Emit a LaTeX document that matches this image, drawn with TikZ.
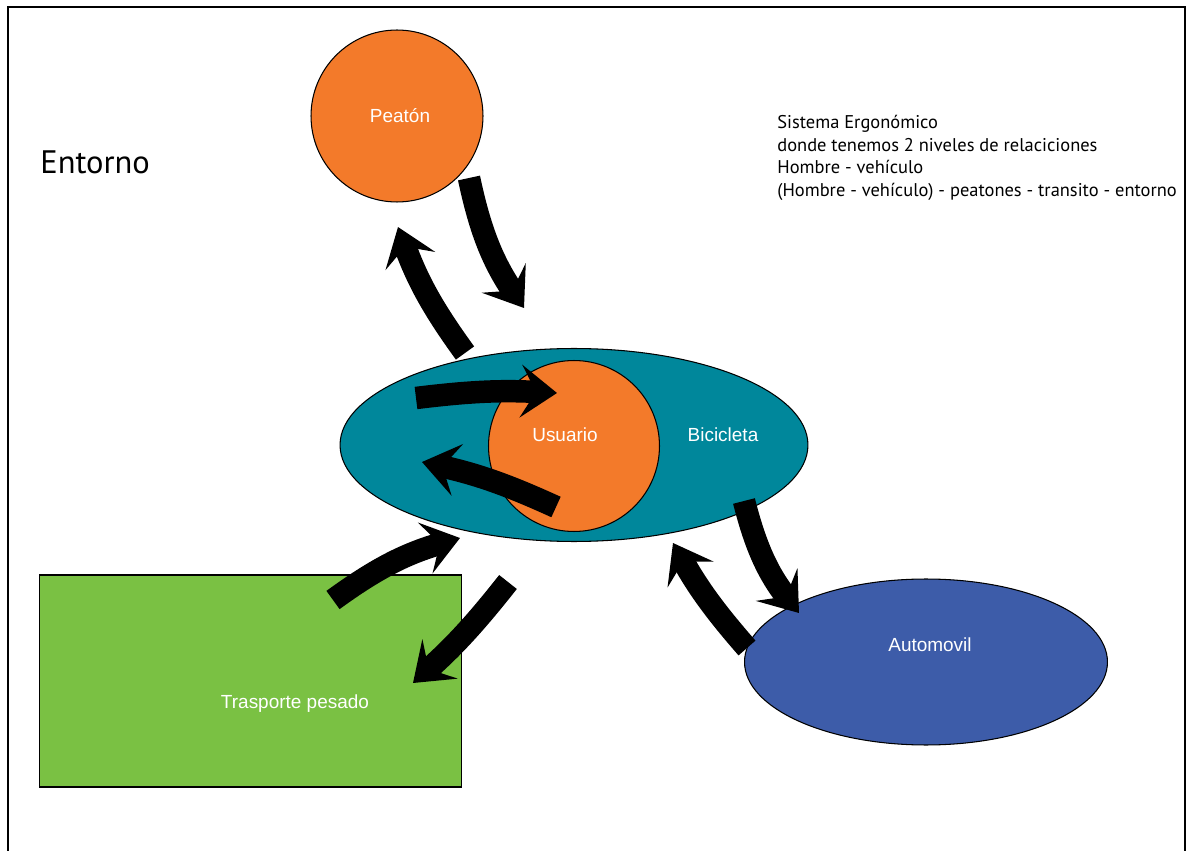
\documentclass[tikz,border=0pt]{standalone}
\usepackage{fontspec}
\setmainfont{Liberation Sans}
\newfontfamily\notefont{PT Sans}
\usetikzlibrary{arrows.meta,shapes.geometric}
\definecolor{tangerine}{HTML}{F37A2A}
\definecolor{petrol}{HTML}{00879B}
\definecolor{cobalt}{HTML}{3D5CA9}
\definecolor{leaf}{HTML}{7AC143}

\begin{document}
\begin{tikzpicture}[x=0.02cm,y=-0.02cm,
  orb/.style={circle,draw=black,line width=0.6pt,inner sep=0pt},
  oval/.style={ellipse,draw=black,line width=0.6pt,inner sep=0pt},
  slab/.style={rectangle,draw=black,line width=0.6pt,inner sep=0pt},
  lbl/.style={text=white,font=\fontsize{10.8}{12}\selectfont,inner sep=0pt},
  note/.style={font=\notefont\fontsize{10.5}{12.9}\selectfont,inner sep=0pt,align=left},
  blk/.style={line width=0.45cm,-{Stealth[length=0.72cm,width=1.05cm,inset=0.3cm]}}]
  \useasboundingbox (0,0) rectangle (1188,851);
  \draw[line width=0.6pt] (8,851) -- (8,7) -- (1185,7) -- (1185,851);

  % shapes
  \node[orb,fill=tangerine,minimum size=3.44cm] (peaton) at (397,116) {};
  \node[oval,fill=petrol,minimum width=9.36cm,minimum height=3.86cm] (bici) at (574,445) {};
  \node[orb,fill=tangerine,minimum size=3.42cm] (usuario) at (574,446) {};
  \node[oval,fill=cobalt,minimum width=7.26cm,minimum height=3.32cm] (auto) at (926,662) {};
  \node[slab,fill=leaf,minimum width=8.46cm,minimum height=4.24cm] (pesado) at (250.5,681) {};

  % labels
  \node[lbl] (peaton-t) at (400,116) {Peatón};
  \node[lbl] (usuario-t) at (565,435) {Usuario};
  \node[lbl] (bici-t) at (723,435) {Bicicleta};
  \node[lbl] (auto-t) at (930,645) {Automovil};
  \node[lbl] (pesado-t) at (295,704) {Trasporte pesado};
  \node[note,anchor=west,font=\notefont\fontsize{18.5}{22}\selectfont] (entorno) at (40,162) {Entorno};
  \node[note,anchor=west] (nota) at (777,158) {Sistema Ergonómico\\donde tenemos 2 niveles de relaciciones\\Hombre - vehículo\\(Hombre - vehículo) - peatones - transito - entorno};

  % arrow ends
  \coordinate (pe-a) at (469,178);  \coordinate (pe-b) at (524,308);
  \coordinate (pe-c) at (465,353);  \coordinate (pe-d) at (398,227);
  \coordinate (us-a) at (416,398);  \coordinate (us-b) at (557,393);
  \coordinate (us-c) at (556,507);  \coordinate (us-d) at (422,462);
  \coordinate (tp-a) at (333,600);  \coordinate (tp-b) at (460,538);
  \coordinate (tp-c) at (508,582);  \coordinate (tp-d) at (413,683);
  \coordinate (au-a) at (744,501);  \coordinate (au-b) at (799,613);
  \coordinate (au-c) at (747,648);  \coordinate (au-d) at (673,543);

  \draw[blk] (pe-a) to[bend right=11] (pe-b);
  \draw[blk] (pe-c) to[bend left=8] (pe-d);
  \draw[blk] (us-a) to[bend left=5] (us-b);
  \draw[blk] (us-c) to[bend right=6] (us-d);
  \draw[blk] (tp-a) to[bend left=10] (tp-b);
  \draw[blk] (tp-c) to[bend left=5] (tp-d);
  \draw[blk] (au-a) to[bend right=12] (au-b);
  \draw[blk] (au-c) to[bend left=6] (au-d);
\end{tikzpicture}
\end{document}
